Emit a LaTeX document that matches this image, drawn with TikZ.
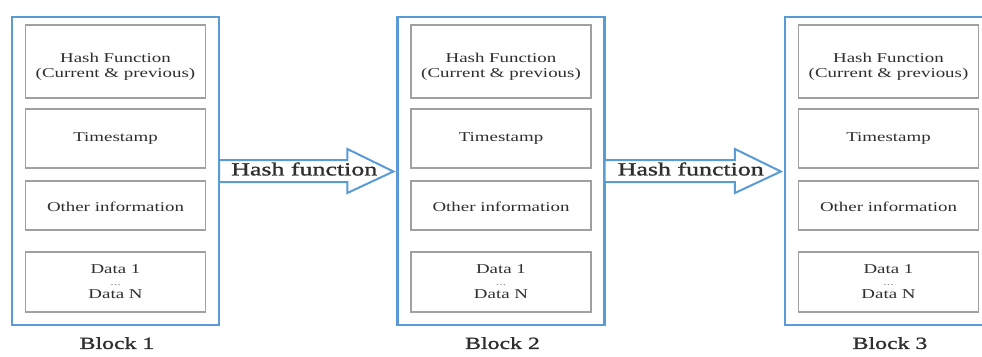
\documentclass[tikz,border=0pt]{standalone}
\usepackage{fontspec}
\setmainfont{Liberation Serif}[FakeStretch=1.4]
\newfontfamily\heavyserif{Liberation Serif}[FakeStretch=1.4,FakeBold=1.2]
\usetikzlibrary{calc}
\definecolor{blockblue}{HTML}{5B9BD5}
\definecolor{fieldgray}{HTML}{A0A0A0}
\definecolor{inkgray}{HTML}{2E2E2E}
\definecolor{dotgray}{HTML}{8A8A8A}
\begin{document}
\begin{tikzpicture}[x=1pt,y=-1pt,
  blockframe/.style={draw=blockblue, line width=2.2pt, minimum width=207pt,
    minimum height=308pt, inner sep=0pt},
  field/.style={draw=fieldgray, line width=1.6pt, minimum width=180pt,
    inner sep=0pt, text=inkgray, align=center,
    font=\fontsize{13.5}{15.5}\selectfont},
  blocklabel/.style={text=inkgray, font=\heavyserif\fontsize{17}{20}\selectfont},
  hasharrow/.style={draw=blockblue, line width=2pt, fill=white, line join=miter},
  flowlabel/.style={text=inkgray, font=\heavyserif\fontsize{18.5}{20}\selectfont,
    inner sep=0pt}
]
\useasboundingbox (0,0) rectangle (982,356);
\clip (0,0) rectangle (982,356);
\fill[white] (0,0) rectangle (982,356);

% three blocks of the chain, each with its four fields
\foreach \i/\cx in {1/115.5, 2/501, 3/888.5} {
  \node[blockframe] (blk\i) at (\cx,171) {};
  \node[field, minimum height=73pt] (hash\i) at (\cx,61.5)
    {\rule{0pt}{20pt}Hash Function\\(Current \& previous)};
  \node[field, minimum height=59pt] (time\i) at (\cx,138.5) {Timestamp};
  \node[field, minimum height=49pt] (info\i) at (\cx,205.5) {\rule{0pt}{13pt}Other information};
  \node[field, minimum height=60pt] (data\i) at (\cx,282)
    {Data 1\\[-4pt]{\fontsize{10}{10}\selectfont\color{dotgray}...}\\[-2pt]Data N};
  \node[blocklabel] (name\i) at ($(blk\i.south)+(1.5,17)$) {Block \i};
}

% block arrows linking consecutive blocks
\foreach \a/\b in {1/2, 2/3} {
  \draw[hasharrow]
    ($(blk\a.east)+(-1,-11)$) -- ($(blk\b.west)+(-49,-11)$)
    -- ($(blk\b.west)+(-49,-22)$) -- ($(blk\b.west)+(-3,0.5)$)
    -- ($(blk\b.west)+(-49,22)$) -- ($(blk\b.west)+(-49,11)$)
    -- ($(blk\a.east)+(-1,11)$) -- cycle;
  \node[flowlabel] (link\a) at ($(blk\a.east)!0.5!(blk\b.west)+(-4,-2)$) {Hash function};
}
\end{tikzpicture}
\end{document}
